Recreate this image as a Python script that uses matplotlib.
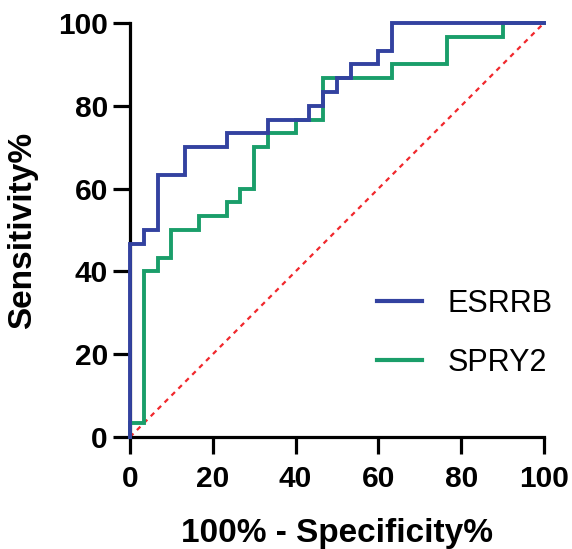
import matplotlib.pyplot as plt

plt.rcParams['font.family'] = ['Liberation Sans', 'DejaVu Sans']

# ROC curve corner points (false positive %, sensitivity %)
esrrb_fpr = [0, 0, 3.33, 3.33, 6.67, 6.67, 13.33, 13.33, 23.33, 23.33, 33.33, 33.33,
             43.33, 43.33, 46.67, 46.67, 50, 50, 53.33, 53.33, 60, 60, 63.33, 63.33, 100]
esrrb_tpr = [0, 46.67, 46.67, 50, 50, 63.33, 63.33, 70, 70, 73.33, 73.33, 76.67,
             76.67, 80, 80, 83.33, 83.33, 86.67, 86.67, 90, 90, 93.33, 93.33, 100, 100]

spry2_fpr = [0, 0, 3.33, 3.33, 6.67, 6.67, 10, 10, 16.67, 16.67, 23.33, 23.33, 26.67, 26.67,
             30, 30, 33.33, 33.33, 40, 40, 46.67, 46.67, 63.33, 63.33, 76.67, 76.67, 90, 90, 100]
spry2_tpr = [0, 3.33, 3.33, 40, 40, 43.33, 43.33, 50, 50, 53.33, 53.33, 56.67, 56.67, 60,
             60, 70, 70, 73.33, 73.33, 76.67, 76.67, 86.67, 86.67, 90, 90, 96.67, 96.67, 100, 100]

ticks = [0, 20, 40, 60, 80, 100]

fig = plt.figure(figsize=(5.72, 5.49), dpi=100)
ax = fig.add_axes([130 / 572, 1 - 437 / 549, 414 / 572, 414 / 549])

# reference line
ax.plot([0, 100], [0, 100], color='#f0282d', linestyle=(0, (2.2, 2.2)), linewidth=1.6,
        clip_on=False, zorder=2)
ax.plot(esrrb_fpr, esrrb_tpr, color='#3342a0', linewidth=2.8, label='ESRRB',
        clip_on=False, zorder=4, solid_joinstyle='miter')
ax.plot(spry2_fpr, spry2_tpr, color='#1a9e6a', linewidth=2.8, label='SPRY2',
        clip_on=False, zorder=3, solid_joinstyle='miter')

ax.set_xlim(0, 100)
ax.set_ylim(0, 100)
ax.set_xticks(ticks)
ax.set_yticks(ticks)
for side in ['top', 'right']:
    ax.spines[side].set_visible(False)
for side in ['left', 'bottom']:
    ax.spines[side].set_linewidth(2.3)
ax.tick_params(width=2.3, length=12, labelsize=21.5)
ax.tick_params(axis='x', pad=8)
ax.tick_params(axis='y', pad=4)
for lbl in ax.get_xticklabels() + ax.get_yticklabels():
    lbl.set_fontweight('bold')

ax.set_xlabel('100% - Specificity%', fontsize=24, fontweight='bold', labelpad=18)
ax.set_ylabel('Sensitivity%', fontsize=24, fontweight='bold', labelpad=14)

leg = ax.legend(loc='upper left', bbox_to_anchor=(377 / 572, 1 - 289 / 549),
                bbox_transform=fig.transFigure, frameon=False, fontsize=22,
                handlelength=1.47, handletextpad=0.85, labelspacing=0.95,
                borderpad=0, borderaxespad=0)
for line in leg.get_lines():
    line.set_linewidth(3)

fig.savefig('out.png', dpi=100)
